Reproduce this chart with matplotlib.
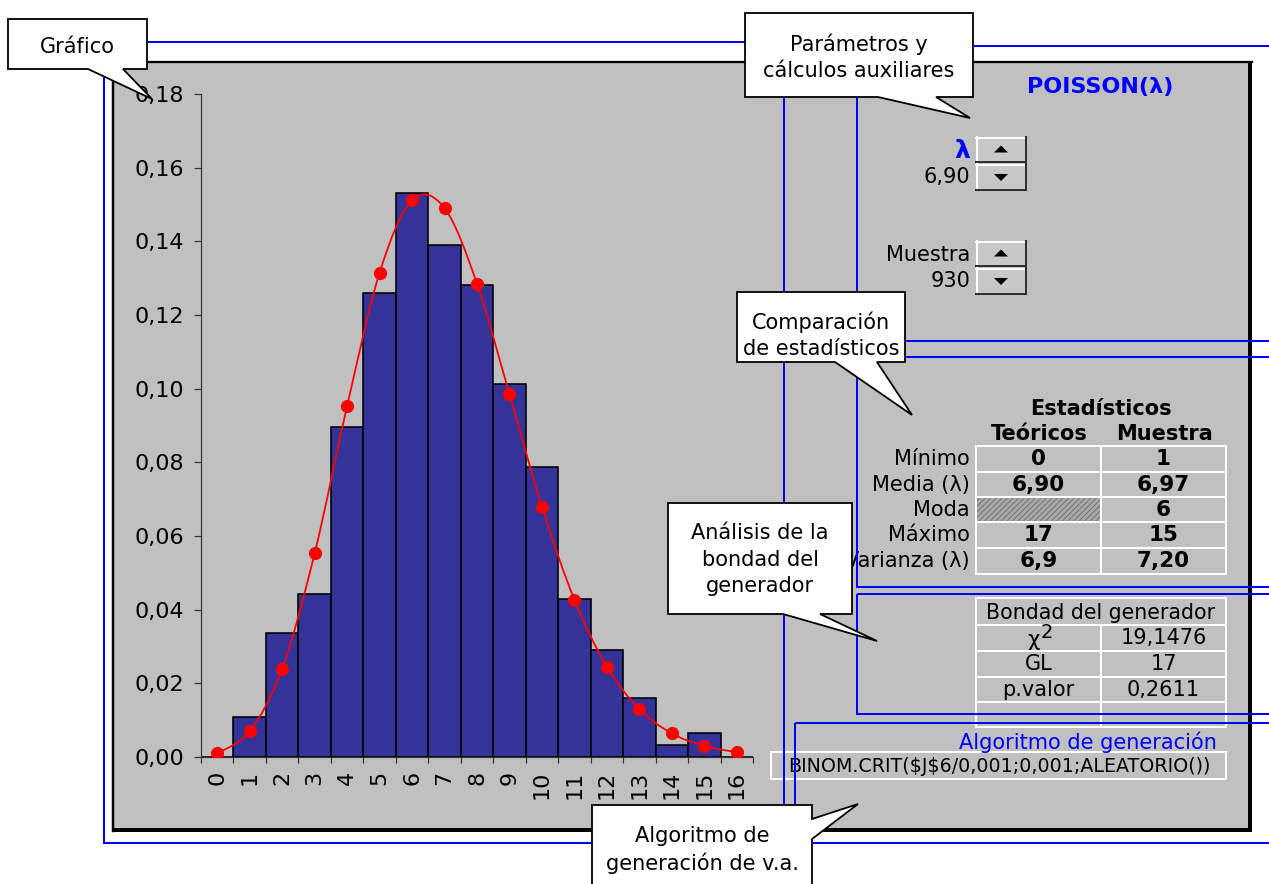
import matplotlib
matplotlib.use("Agg")
import matplotlib.pyplot as plt
from matplotlib.patches import Rectangle, Polygon, PathPatch
from matplotlib.path import Path
import numpy as np

plt.rcParams['font.family'] = ['DejaVu Sans']
plt.rcParams['hatch.linewidth'] = 0.6

# --- datos del grafico ---
categorias = list(range(17))
frec_muestra = [0.0, 0.0109, 0.0337, 0.0443, 0.0896, 0.1260, 0.1531, 0.1390, 0.1281,
                0.1013, 0.0787, 0.0429, 0.0290, 0.0160, 0.0033, 0.0065, 0.0]
prob_teorica = [0.0010, 0.0070, 0.0240, 0.0553, 0.0953, 0.1315, 0.1512, 0.1490, 0.1285,
                0.0985, 0.0680, 0.0427, 0.0245, 0.0130, 0.0064, 0.0030, 0.0013]
y_ticks = [0.0, 0.02, 0.04, 0.06, 0.08, 0.10, 0.12, 0.14, 0.16, 0.18]
y_tick_labels = ['0,00', '0,02', '0,04', '0,06', '0,08', '0,10', '0,12', '0,14', '0,16', '0,18']

# --- datos del panel derecho ---
titulo = 'POISSON(λ)'
lambda_txt = '6,90'
muestra_txt = '930'
filas_est = ['Mínimo', 'Media (λ)', 'Moda', 'Máximo', 'Varianza (λ)']
col_teoricos = ['0', '6,90', '', '17', '6,9']
col_muestra = ['1', '6,97', '6', '15', '7,20']
bondad_etiquetas = ['χ', 'GL', 'p.valor', '']
bondad_valores = ['19,1476', '17', '0,2611', '']
formula = 'BINOM.CRIT($J$6/0,001;0,001;ALEATORIO())'

W, H = 1269, 884
AZUL = '#0000FF'
GRIS = '#C0C0C0'


def px(v):
    # pixeles -> puntos
    return v * 0.72


def curva_suave(xs, ys):
    # curva suavizada tipo Excel (bezier por tramos)
    pts = np.column_stack([xs, ys]).astype(float)
    n = len(pts)
    verts = [pts[0]]
    codes = [Path.MOVETO]
    for i in range(n - 1):
        p0 = pts[max(i - 1, 0)]
        p1 = pts[i]
        p2 = pts[i + 1]
        p3 = pts[min(i + 2, n - 1)]
        verts += [p1 + (p2 - p0) / 6, p2 - (p3 - p1) / 6, p2]
        codes += [Path.CURVE4] * 3
    return Path(verts, codes)


def globo(ax, x0, y0, x1, y1, base, punta, lado, lineas, ys, cx, size=15):
    if lado == 'abajo':
        verts = [(x0, y0), (x1, y0), (x1, y1), (base[1], y1), punta, (base[0], y1), (x0, y1)]
    else:
        verts = [(x0, y0), (x1, y0), (x1, base[0]), punta, (x1, base[1]), (x1, y1), (x0, y1)]
    ax.add_patch(Polygon(verts, closed=True, facecolor='white', edgecolor='black',
                         lw=px(1.8), zorder=8, joinstyle='miter'))
    for t, yy in zip(lineas, ys):
        ax.text(cx, yy, t, ha='center', va='center', fontsize=size, zorder=9)


def boton(ax, x0, y0, w, h, arriba):
    ax.add_patch(Rectangle((x0, y0), w, h, facecolor='#C8C8C8', edgecolor='none', zorder=2))
    ax.plot([x0, x0 + w], [y0 + 1, y0 + 1], color='white', lw=px(2), zorder=3)
    ax.plot([x0 + 1, x0 + 1], [y0, y0 + h], color='white', lw=px(2), zorder=3)
    ax.plot([x0, x0 + w], [y0 + h, y0 + h], color='#303030', lw=px(2), zorder=3)
    ax.plot([x0 + w, x0 + w], [y0, y0 + h], color='#303030', lw=px(2), zorder=3)
    cx, cy = x0 + w / 2, y0 + h / 2
    if arriba:
        tri = [(cx - 7, cy + 3), (cx + 7, cy + 3), (cx, cy - 4)]
    else:
        tri = [(cx - 7, cy - 3), (cx + 7, cy - 3), (cx, cy + 4)]
    ax.add_patch(Polygon(tri, closed=True, facecolor='black', edgecolor='none', zorder=3))


fig = plt.figure(figsize=(W / 100, H / 100), dpi=100)
fig.patch.set_facecolor('white')

# capa de fondo
bg = fig.add_axes([0, 0, 1, 1], zorder=0)
bg.set_xlim(0, W)
bg.set_ylim(H, 0)
bg.axis('off')
bg.add_patch(Rectangle((113, 62), 1136, 767, facecolor=GRIS, edgecolor='none'))
bg.plot([113, 1252], [62, 62], color='black', lw=px(2.3))
bg.plot([113, 113], [62, 831], color='black', lw=px(2.5))
bg.add_patch(Rectangle((1248, 61), 4, 771, facecolor='black', edgecolor='none'))
bg.add_patch(Rectangle((113, 828), 1139, 4, facecolor='black', edgecolor='none'))

# grafico
ax = fig.add_axes([201 / W, 1 - 757 / H, 552 / W, 663 / H], zorder=1)
ax.patch.set_visible(False)
ax.bar(categorias, frec_muestra, width=1.0, color='#333399', edgecolor='black',
       linewidth=px(1.6), zorder=2)
ax.add_patch(PathPatch(curva_suave(categorias, prob_teorica), facecolor='none',
                       edgecolor='red', lw=px(1.8), zorder=3))
ax.plot(categorias, prob_teorica, 'o', color='red', markersize=9.5, markeredgewidth=0, zorder=4)
ax.set_xlim(-0.5, 16.5)
ax.set_ylim(0, 0.18)
ax.set_yticks(y_ticks)
ax.set_yticklabels(y_tick_labels, fontsize=16)
ax.set_xticks(categorias)
ax.set_xticklabels([str(c) for c in categorias], rotation=90, fontsize=16)
ax.set_xticks(np.arange(-0.5, 17, 1), minor=True)
ax.tick_params(axis='x', which='major', length=0, pad=10)
ax.tick_params(axis='x', which='minor', length=px(6), width=px(1.2), color='#333333')
ax.tick_params(axis='y', length=px(7), width=px(1.2), color='#333333', pad=7)
for s in ['top', 'right']:
    ax.spines[s].set_visible(False)
for s in ['left', 'bottom']:
    ax.spines[s].set_linewidth(px(1.2))
    ax.spines[s].set_color('#333333')

# capa frontal
fg = fig.add_axes([0, 0, 1, 1], zorder=2)
fg.set_xlim(0, W)
fg.set_ylim(H, 0)
fg.axis('off')
fg.patch.set_visible(False)

# parametros
fg.text(1100, 87, titulo, ha='center', va='center', fontsize=16, fontweight='bold', color=AZUL)
fg.text(970, 151, 'λ', ha='right', va='center', fontsize=18, fontweight='bold', color=AZUL)
fg.text(970, 177, lambda_txt, ha='right', va='center', fontsize=15)
fg.text(970, 255, 'Muestra', ha='right', va='center', fontsize=15)
fg.text(970, 281, muestra_txt, ha='right', va='center', fontsize=15)
boton(fg, 976, 137, 50, 25, True)
boton(fg, 976, 164, 50, 26, False)
boton(fg, 976, 241, 50, 25, True)
boton(fg, 976, 268, 50, 26, False)

# tabla de estadisticos
fg.text(1101, 409, 'Estadísticos', ha='center', va='center', fontsize=15, fontweight='bold')
fg.text(1039, 434, 'Teóricos', ha='center', va='center', fontsize=15, fontweight='bold')
fg.text(1164, 434, 'Muestra', ha='center', va='center', fontsize=15, fontweight='bold')
filas_y = [446, 472, 497, 522, 548, 574]
fg.add_patch(Rectangle((977, 498), 123, 23, facecolor='#A8A8A8', edgecolor='#6A6A6A',
                       lw=0, hatch='//////', zorder=2))
for yy in filas_y:
    fg.plot([976, 1226], [yy, yy], color='white', lw=px(2), zorder=3)
for xx in [976, 1101, 1226]:
    fg.plot([xx, xx], [446, 574], color='white', lw=px(2), zorder=3)
for i, et in enumerate(filas_est):
    yc = (filas_y[i] + filas_y[i + 1]) / 2
    fg.text(970, yc, et, ha='right', va='center', fontsize=15, zorder=4)
    fg.text(1038.5, yc, col_teoricos[i], ha='center', va='center', fontsize=15.5,
            fontweight='bold', zorder=4)
    fg.text(1163.5, yc, col_muestra[i], ha='center', va='center', fontsize=15.5,
            fontweight='bold', zorder=4)

# bondad del generador
bond_y = [598, 625, 651, 677, 702, 727]
for yy in bond_y:
    fg.plot([976, 1226], [yy, yy], color='white', lw=px(2), zorder=3)
for xx in [976, 1226]:
    fg.plot([xx, xx], [598, 727], color='white', lw=px(2), zorder=3)
fg.plot([1101, 1101], [625, 727], color='white', lw=px(2), zorder=3)
fg.text(1101, 613, 'Bondad del generador', ha='center', va='center', fontsize=14.8, zorder=4)
for i, (et, val) in enumerate(zip(bondad_etiquetas, bondad_valores)):
    yc = (bond_y[i + 1] + bond_y[i + 2]) / 2
    if et == 'χ':
        fg.text(1040, yc + 2, et, ha='right', va='center', fontsize=15.5, zorder=4)
        fg.text(1041, yc - 6, '2', ha='left', va='center', fontsize=14, zorder=4)
    else:
        fg.text(1038.5, yc, et, ha='center', va='center', fontsize=15, zorder=4)
    fg.text(1163.5, yc, val, ha='center', va='center', fontsize=15, zorder=4)

# algoritmo de generacion
fg.text(1088, 742, 'Algoritmo de generación', ha='center', va='center', fontsize=15,
        color=AZUL, zorder=4)
fg.add_patch(Rectangle((771, 752), 455, 27, facecolor='none', edgecolor='white',
                       lw=px(2), zorder=3))
fg.text(788, 767, formula, ha='left', va='center', fontsize=13.7, zorder=4, parse_math=False)

# marcos azules
for (x0, y0, x1, y1) in [(104, 42, 784, 843), (857, 46, 1300, 341), (857, 357, 1300, 587),
                         (857, 594, 1300, 714), (795, 723, 1300, 843)]:
    fg.add_patch(Rectangle((x0, y0), x1 - x0, y1 - y0, facecolor='none', edgecolor=AZUL,
                           lw=px(2), zorder=5))

# globos
globo(fg, 8, 19, 147, 69, (88, 123), (152, 99), 'abajo', ['Gráfico'], [47], 77, size=15)
globo(fg, 745, 13, 973, 97, (878, 936), (970, 118), 'abajo',
      ['Parámetros y', 'cálculos auxiliares'], [44, 71], 859, size=15)
globo(fg, 737, 292, 905, 362, (835, 877), (912, 415), 'abajo',
      ['Comparación', 'de estadísticos'], [322, 349], 821, size=15)
globo(fg, 668, 503, 852, 614, (783, 820), (877, 641), 'abajo',
      ['Análisis de la', 'bondad del', 'generador'], [533, 560, 586], 760, size=15)
globo(fg, 592, 805, 812, 900, (819, 839), (858, 804), 'derecha',
      ['Algoritmo de', 'generación de v.a.'], [836, 863], 702, size=15)

fig.savefig('out.png', dpi=100)
